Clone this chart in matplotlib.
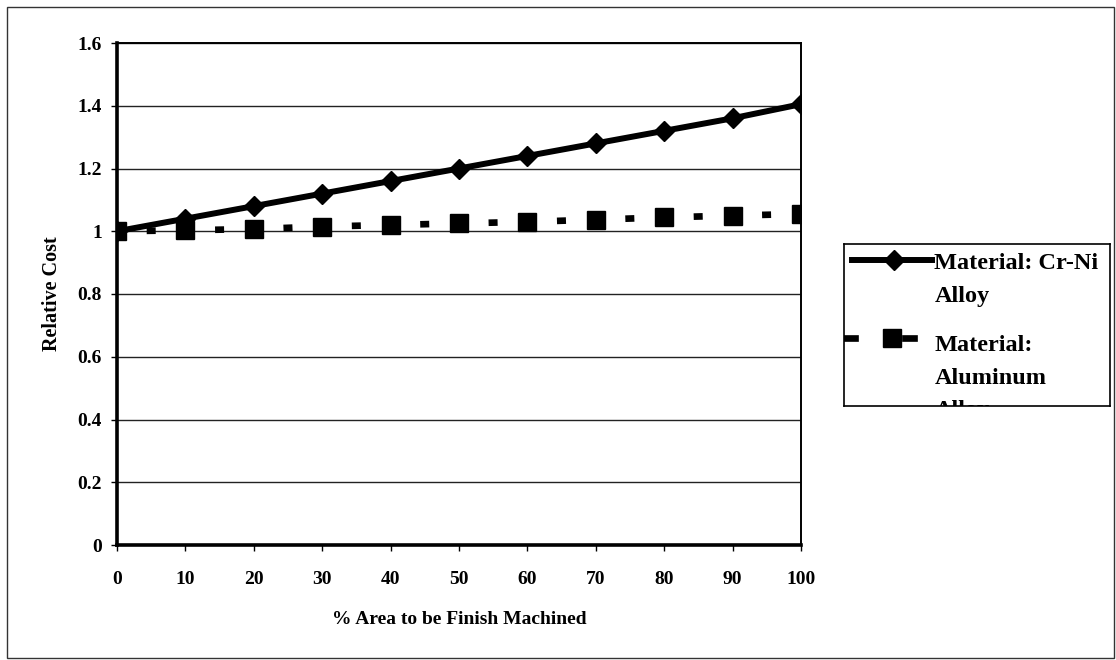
import matplotlib
matplotlib.use("Agg")
import matplotlib.pyplot as plt
from matplotlib.patches import Rectangle

# data
area_pct = [0, 10, 20, 30, 40, 50, 60, 70, 80, 90, 100]
cost_crni = [1.0, 1.04, 1.08, 1.12, 1.16, 1.20, 1.24, 1.28, 1.32, 1.36, 1.405]
cost_alu = [1.0, 1.003, 1.007, 1.015, 1.02, 1.025, 1.03, 1.037, 1.044, 1.05, 1.055]

label_crni = "Material: Cr-Ni\nAlloy"
label_alu = "Material:\nAluminum\nAlloy"
yticks = [0, 0.2, 0.4, 0.6, 0.8, 1.0, 1.2, 1.4, 1.6]
ytick_labels = ["0", "0.2", "0.4", "0.6", "0.8", "1", "1.2", "1.4", "1.6"]

plt.rcParams["font.family"] = ["Liberation Serif", "DejaVu Serif"]
plt.rcParams["font.weight"] = "bold"
plt.rcParams["lines.scale_dashes"] = False

W, H = 1116, 660
fig = plt.figure(figsize=(W / 100, H / 100), dpi=100)

# outer chart border
fig.patches.append(Rectangle((7 / W, 1 - 658 / H), 1107 / W, 651 / H,
                             transform=fig.transFigure, fill=False,
                             edgecolor="#333333", linewidth=1))

ax = fig.add_axes([117 / W, 1 - 545 / H, 684 / W, 502 / H])

# dash spacing so one dash sits between each pair of markers
seg_pt = 684 / 10 * 0.72
dash_on = 6.5
dash_off = seg_pt - dash_on
dash_offset = dash_on + dash_off - (seg_pt - dash_on) / 2

ax.plot(area_pct, cost_crni, color="black", linewidth=4.3, marker="D",
        markersize=10, zorder=4)
ax.plot(area_pct, cost_alu, color="black", linewidth=4.8,
        linestyle=(dash_offset, (dash_on, dash_off)),
        marker="s", markersize=13, zorder=3)

ax.set_xlim(0, 100)
ax.set_ylim(0, 1.6)
ax.set_xticks(area_pct)
ax.set_yticks(yticks)
ax.set_yticklabels(ytick_labels)
ax.yaxis.grid(True, color="#222222", linewidth=1)
ax.set_axisbelow(True)
ax.tick_params(axis="both", direction="out", length=4, width=1, labelsize=14)
ax.tick_params(axis="x", pad=15)
ax.tick_params(axis="y", pad=7)

for side in ["left", "bottom"]:
    ax.spines[side].set_linewidth(2.6)
for side in ["top", "right"]:
    ax.spines[side].set_linewidth(1.4)

ax.set_xlabel("% Area to be Finish Machined", fontsize=14, fontweight="bold")
ax.set_ylabel("Relative Cost", fontsize=14.5, fontweight="bold")
ax.xaxis.set_label_coords(0.5, -0.132)
ax.yaxis.set_label_coords(-0.08, 0.5)

# legend box, clipped like the original
lax = fig.add_axes([844 / W, 1 - 406 / H, 266 / W, 162 / H])
lax.set_xlim(0, 1)
lax.set_ylim(0, 1)
lax.set_xticks([])
lax.set_yticks([])
for s in lax.spines.values():
    s.set_linewidth(1.2)

lax.plot([0.03, 0.33], [0.901, 0.901], color="black", linewidth=4.3)
lax.plot([0.188], [0.901], color="black", marker="D", markersize=10)
lax.plot([0.008, 0.04], [0.42, 0.42], color="black", linewidth=4.8)
lax.plot([0.23, 0.265], [0.42, 0.42], color="black", linewidth=4.8)
lax.plot([0.18], [0.42], color="black", marker="s", markersize=13)

lax.text(0.34, 0.944, label_crni, fontsize=17.5, va="top", ha="left",
         linespacing=1.72, clip_on=True)
lax.text(0.34, 0.438, label_alu, fontsize=17.5, va="top", ha="left",
         linespacing=1.72, clip_on=True)

fig.savefig("out.png", dpi=100)
